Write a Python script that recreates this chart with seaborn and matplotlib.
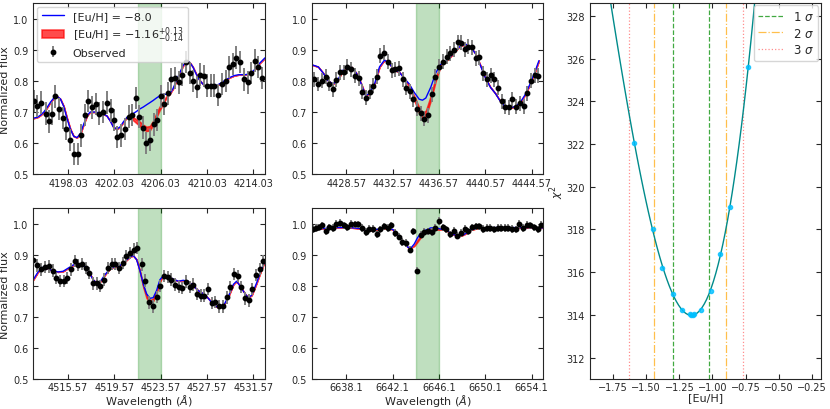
import numpy as np
import seaborn as sns
import matplotlib
matplotlib.use("Agg")
import matplotlib.pyplot as plt

# ---- observed spectra (wavelength, normalized flux, error) ----
tl_wl = [4195.12, 4195.32, 4195.72, 4196.09, 4196.37, 4196.66, 4196.94, 4197.29, 4197.60, 4197.89,
         4198.23, 4198.52, 4198.86, 4199.14, 4199.49, 4199.77, 4200.09, 4200.43, 4200.74, 4201.09,
         4201.40, 4201.72, 4202.00, 4202.29, 4202.57, 4202.94, 4203.26, 4203.54, 4203.86, 4204.17,
         4204.46, 4204.80, 4205.14, 4205.43, 4205.74, 4206.06, 4206.34, 4206.66, 4206.94, 4207.29,
         4207.60, 4207.89, 4208.23, 4208.52, 4208.80, 4209.14, 4209.46, 4209.74, 4210.00, 4210.34,
         4210.66, 4210.97, 4211.32, 4211.66, 4211.94, 4212.26, 4212.54, 4212.86, 4213.23, 4213.54,
         4213.86, 4214.14, 4214.46, 4214.80]
tl_flux = [0.735, 0.720, 0.730, 0.695, 0.670, 0.695, 0.750, 0.710, 0.680, 0.645,
           0.610, 0.565, 0.565, 0.625, 0.690, 0.735, 0.715, 0.725, 0.695, 0.700,
           0.730, 0.705, 0.675, 0.620, 0.625, 0.645, 0.685, 0.690, 0.745, 0.685,
           0.650, 0.600, 0.610, 0.660, 0.675, 0.750, 0.725, 0.760, 0.805, 0.810,
           0.795, 0.820, 0.860, 0.825, 0.800, 0.780, 0.820, 0.815, 0.785, 0.785,
           0.785, 0.755, 0.790, 0.800, 0.845, 0.855, 0.875, 0.860, 0.805, 0.795,
           0.825, 0.865, 0.845, 0.810]
tl_err = 0.036

tm_wl = [4425.80, 4426.14, 4426.43, 4426.77, 4427.08, 4427.40, 4427.71, 4428.03, 4428.34, 4428.66,
         4428.97, 4429.31, 4429.63, 4429.94, 4430.26, 4430.57, 4430.88, 4431.20, 4431.51, 4431.83,
         4432.17, 4432.48, 4432.80, 4433.11, 4433.43, 4433.74, 4434.06, 4434.34, 4434.66, 4434.97,
         4435.28, 4435.60, 4435.94, 4436.26, 4436.57, 4436.88, 4437.23, 4437.54, 4437.86, 4438.17,
         4438.48, 4438.80, 4439.11, 4439.43, 4439.74, 4440.06, 4440.40, 4440.71, 4441.03, 4441.34,
         4441.66, 4441.97, 4442.28, 4442.60, 4442.91, 4443.23, 4443.57, 4443.88, 4444.20, 4444.51,
         4444.83, 4445.14]
tm_flux = [0.805, 0.790, 0.800, 0.813, 0.790, 0.773, 0.803, 0.827, 0.827, 0.845,
           0.838, 0.816, 0.809, 0.765, 0.746, 0.765, 0.784, 0.814, 0.881, 0.891,
           0.861, 0.834, 0.838, 0.840, 0.805, 0.778, 0.766, 0.741, 0.711, 0.696,
           0.679, 0.689, 0.757, 0.813, 0.846, 0.861, 0.878, 0.888, 0.900, 0.924,
           0.922, 0.902, 0.910, 0.908, 0.872, 0.876, 0.824, 0.805, 0.818, 0.805,
           0.778, 0.734, 0.717, 0.716, 0.741, 0.717, 0.728, 0.719, 0.760, 0.800,
           0.818, 0.816]
tm_err = 0.024

bl_wl = [4512.57, 4512.92, 4513.26, 4513.61, 4513.93, 4514.24, 4514.56, 4514.88, 4515.20, 4515.51,
         4515.83, 4516.15, 4516.46, 4516.78, 4517.10, 4517.41, 4517.73, 4518.05, 4518.37, 4518.71,
         4519.03, 4519.35, 4519.66, 4519.98, 4520.30, 4520.61, 4520.93, 4521.25, 4521.56, 4521.91,
         4522.23, 4522.54, 4522.86, 4523.21, 4523.52, 4523.84, 4524.16, 4524.47, 4524.79, 4525.11,
         4525.43, 4525.74, 4526.06, 4526.38, 4526.69, 4527.01, 4527.33, 4527.65, 4527.96, 4528.28,
         4528.60, 4528.91, 4529.26, 4529.58, 4529.89, 4530.21, 4530.53, 4530.84, 4531.16, 4531.48,
         4531.80, 4532.11, 4532.43]
bl_flux = [0.885, 0.866, 0.853, 0.860, 0.863, 0.849, 0.826, 0.815, 0.815, 0.826,
           0.853, 0.880, 0.868, 0.870, 0.858, 0.842, 0.808, 0.808, 0.799, 0.820,
           0.857, 0.870, 0.870, 0.858, 0.874, 0.896, 0.906, 0.917, 0.922, 0.869,
           0.817, 0.747, 0.734, 0.765, 0.799, 0.831, 0.828, 0.820, 0.804, 0.796,
           0.794, 0.814, 0.796, 0.804, 0.774, 0.769, 0.769, 0.790, 0.744, 0.749,
           0.734, 0.734, 0.763, 0.796, 0.838, 0.831, 0.796, 0.760, 0.753, 0.790,
           0.835, 0.854, 0.880]
bl_err = 0.02

bm_wl = [6635.24, 6635.50, 6635.70, 6635.99, 6636.30, 6636.61, 6636.93, 6637.24, 6637.56, 6637.87,
         6638.19, 6638.50, 6638.81, 6639.13, 6639.44, 6639.76, 6640.07, 6640.39, 6640.73, 6641.04,
         6641.36, 6641.67, 6641.99, 6642.30, 6642.61, 6642.93, 6643.24, 6643.56, 6643.87, 6644.19,
         6644.50, 6644.81, 6645.13, 6645.47, 6645.79, 6646.10, 6646.41, 6646.73, 6647.04, 6647.36,
         6647.67, 6647.99, 6648.30, 6648.61, 6648.96, 6649.27, 6649.59, 6649.90, 6650.21, 6650.53,
         6650.84, 6651.16, 6651.47, 6651.79, 6652.10, 6652.41, 6652.73, 6653.04, 6653.36, 6653.67,
         6653.99, 6654.30, 6654.61, 6654.93]
bm_flux = [0.984, 0.986, 0.989, 0.995, 0.976, 0.989, 0.986, 0.999, 1.003, 0.995,
           0.989, 1.000, 0.998, 0.998, 0.987, 0.973, 0.984, 0.984, 0.966, 0.982,
           0.992, 0.986, 0.995, 0.971, 0.959, 0.941, 0.938, 0.917, 0.976, 0.849,
           0.965, 0.973, 0.976, 0.973, 0.987, 1.009, 0.989, 0.982, 0.966, 0.978,
           0.962, 0.971, 0.984, 0.976, 0.989, 0.992, 0.992, 0.984, 0.987, 0.987,
           0.982, 0.986, 0.986, 0.986, 0.986, 0.984, 0.982, 1.000, 0.987, 0.997,
           0.995, 0.989, 0.982, 0.997]
bm_err = 0.012

# ---- synthetic spectra: [Eu/H] = -8.0 (weak) and best-fit band inside the Eu window ----
tl_mwl = [4195.03, 4195.37, 4195.66, 4195.94, 4196.23, 4196.52, 4196.80, 4197.09, 4197.37, 4197.66,
          4197.94, 4198.23, 4198.52, 4198.80, 4199.09, 4199.37, 4199.66, 4199.94, 4200.37, 4200.80,
          4201.09, 4201.37, 4201.66, 4201.94, 4202.23, 4202.52, 4202.80, 4203.09, 4203.37, 4203.66,
          4203.94, 4204.23, 4204.52, 4204.80, 4205.09, 4205.37, 4205.66, 4205.94, 4206.23, 4206.52,
          4206.80, 4207.09, 4207.37, 4207.66, 4207.94, 4208.23, 4208.52, 4208.80, 4209.09, 4209.37,
          4209.66, 4209.94, 4210.23, 4210.66, 4211.09, 4211.52, 4211.94, 4212.37, 4212.80, 4213.37,
          4213.80, 4214.23, 4214.52, 4215.03]
tl_weak = [0.680, 0.683, 0.690, 0.700, 0.715, 0.732, 0.745, 0.750, 0.742, 0.718,
           0.680, 0.645, 0.622, 0.618, 0.630, 0.660, 0.688, 0.700, 0.700, 0.697,
           0.693, 0.688, 0.672, 0.652, 0.645, 0.652, 0.668, 0.682, 0.688, 0.695,
           0.702, 0.710, 0.716, 0.723, 0.730, 0.737, 0.745, 0.752, 0.757, 0.757,
           0.758, 0.775, 0.800, 0.825, 0.848, 0.862, 0.860, 0.845, 0.822, 0.803,
           0.790, 0.783, 0.781, 0.783, 0.790, 0.800, 0.810, 0.817, 0.820, 0.820,
           0.824, 0.840, 0.855, 0.874]
tl_band_start = 28
tl_band_lo = [0.686, 0.673, 0.664, 0.655, 0.645, 0.639, 0.641, 0.658, 0.683, 0.706, 0.725, 0.745]
tl_band_hi = [0.689, 0.683, 0.676, 0.669, 0.659, 0.653, 0.655, 0.672, 0.697, 0.718, 0.735, 0.751]

tm_mwl = [4425.57, 4426.14, 4426.57, 4427.00, 4427.43, 4427.86, 4428.28, 4428.57, 4429.00, 4429.43,
          4429.86, 4430.23, 4430.57, 4431.00, 4431.43, 4431.86, 4432.28, 4432.71, 4433.14, 4433.57,
          4434.00, 4434.43, 4434.86, 4435.14, 4435.43, 4435.86, 4436.28, 4436.71, 4437.14, 4437.57,
          4438.00, 4438.43, 4438.86, 4439.28, 4439.71, 4440.14, 4440.57, 4441.00, 4441.43, 4441.86,
          4442.28, 4442.71, 4443.14, 4443.57, 4444.00, 4444.43, 4444.86, 4445.20]
tm_weak = [0.852, 0.845, 0.825, 0.800, 0.790, 0.805, 0.835, 0.845, 0.845, 0.825,
           0.790, 0.752, 0.760, 0.790, 0.845, 0.867, 0.855, 0.835, 0.828, 0.808,
           0.790, 0.763, 0.741, 0.738, 0.745, 0.780, 0.825, 0.853, 0.862, 0.878,
           0.898, 0.912, 0.918, 0.910, 0.888, 0.850, 0.810, 0.780, 0.760, 0.735,
           0.717, 0.713, 0.718, 0.730, 0.755, 0.790, 0.830, 0.865]
tm_band_start = 20
tm_band_lo = [0.779, 0.738, 0.696, 0.680, 0.686, 0.737, 0.799, 0.848]
tm_band_hi = [0.787, 0.752, 0.714, 0.700, 0.704, 0.753, 0.811, 0.852]

bl_mwl = [4512.57, 4512.98, 4513.41, 4513.84, 4514.27, 4514.71, 4515.14, 4515.57, 4516.00, 4516.43,
          4516.87, 4517.30, 4517.73, 4518.02, 4518.31, 4518.74, 4519.17, 4519.61, 4520.04, 4520.47,
          4520.90, 4521.19, 4521.48, 4521.77, 4522.05, 4522.34, 4522.63, 4522.92, 4523.21, 4523.50,
          4523.78, 4524.22, 4524.65, 4525.08, 4525.51, 4525.95, 4526.38, 4526.81, 4527.24, 4527.67,
          4528.11, 4528.54, 4528.97, 4529.40, 4529.84, 4530.12, 4530.41, 4530.84, 4531.13, 4531.42,
          4531.85, 4532.28, 4532.57]
bl_weak = [0.820, 0.845, 0.860, 0.855, 0.848, 0.845, 0.847, 0.857, 0.867, 0.872,
           0.868, 0.850, 0.820, 0.810, 0.812, 0.835, 0.855, 0.862, 0.865, 0.878,
           0.893, 0.898, 0.885, 0.850, 0.808, 0.775, 0.760, 0.762, 0.785, 0.820,
           0.832, 0.830, 0.822, 0.815, 0.818, 0.815, 0.800, 0.785, 0.775, 0.760,
           0.740, 0.730, 0.735, 0.765, 0.805, 0.815, 0.800, 0.775, 0.762, 0.770,
           0.810, 0.855, 0.880]
bl_band_start = 23
bl_band_lo = [0.845, 0.797, 0.761, 0.746, 0.751, 0.777, 0.813]
bl_band_hi = [0.849, 0.803, 0.769, 0.754, 0.759, 0.783, 0.817]

bm_mwl = [6635.10, 6636.10, 6637.24, 6638.39, 6639.24, 6639.96, 6640.67, 6641.53, 6642.10, 6642.53,
          6642.96, 6643.39, 6643.67, 6643.96, 6644.24, 6644.53, 6644.96, 6645.39, 6645.81, 6646.39,
          6646.96, 6647.39, 6647.81, 6648.24, 6648.81, 6649.53, 6650.96, 6652.39, 6653.81, 6655.10]
bm_weak = [0.982, 0.985, 0.988, 0.988, 0.985, 0.978, 0.982, 0.986, 0.982, 0.965,
           0.945, 0.925, 0.922, 0.935, 0.955, 0.970, 0.980, 0.987, 0.987, 0.982,
           0.975, 0.965, 0.960, 0.965, 0.980, 0.987, 0.988, 0.988, 0.988, 0.987]
bm_band_start = 13
bm_band_lo = [0.928, 0.942, 0.957, 0.973, 0.980, 0.981]
bm_band_hi = [0.932, 0.948, 0.963, 0.977, 0.984, 0.985]

# line centres (window = centre +-1 A, plot = centre +-10 A)
centres = [4205.03, 4435.57, 4522.57, 6645.1]
tick_fmt = ["%.2f", "%.2f", "%.2f", "%.1f"]

# ---- chi-square curve ----
chi_abund = [-1.59, -1.45, -1.38, -1.30, -1.23, -1.17, -1.16, -1.15, -1.14, -1.09, -1.01, -0.94, -0.87, -0.73]
chi_vals = [322.05, 318.0, 316.2, 315.0, 314.25, 314.02, 314.0, 314.0, 314.02, 314.25, 315.1, 316.85, 319.05, 325.6]
sig1 = [-1.30, -1.03]
sig2 = [-1.44, -0.90]
sig3 = [-1.63, -0.77]

sns.set_style("ticks")
plt.rcParams["font.family"] = ["DejaVu Sans"]
plt.rcParams["mathtext.fontset"] = "dejavusans"

fig = plt.figure(figsize=(8.3, 4.1), dpi=100)
ax_tl = fig.add_axes([0.0401, 0.5724, 0.2792, 0.4178])
ax_tm = fig.add_axes([0.3755, 0.5724, 0.2790, 0.4178])
ax_bl = fig.add_axes([0.0401, 0.0732, 0.2792, 0.4163])
ax_bm = fig.add_axes([0.3755, 0.0732, 0.2790, 0.4163])
ax_chi = fig.add_axes([0.7108, 0.0732, 0.2780, 0.9171])

panels = [
    (ax_tl, tl_wl, tl_flux, tl_err, tl_mwl, tl_weak, tl_band_start, tl_band_lo, tl_band_hi),
    (ax_tm, tm_wl, tm_flux, tm_err, tm_mwl, tm_weak, tm_band_start, tm_band_lo, tm_band_hi),
    (ax_bl, bl_wl, bl_flux, bl_err, bl_mwl, bl_weak, bl_band_start, bl_band_lo, bl_band_hi),
    (ax_bm, bm_wl, bm_flux, bm_err, bm_mwl, bm_weak, bm_band_start, bm_band_lo, bm_band_hi),
]

weak_label = "[Eu/H] = \u22128.0"
best_label = r"[Eu/H] = $-1.16^{+0.13}_{-0.14}$"

for i, (ax, wl, flux, err, mwl, weak, b0, blo, bhi) in enumerate(panels):
    c = centres[i]
    ax.axvspan(c - 1, c + 1, color="green", alpha=0.25, lw=1)
    sns.lineplot(x=mwl, y=weak, ax=ax, color="blue", lw=1, sort=False, label=weak_label)
    lo = np.array(weak, dtype=float)
    hi = np.array(weak, dtype=float)
    lo[b0:b0 + len(blo)] = blo
    hi[b0:b0 + len(bhi)] = bhi
    ax.fill_between(mwl, lo, hi, facecolor="red", edgecolor="red", alpha=0.7, lw=1.1,
                    label=best_label)
    ax.errorbar(wl, flux, yerr=err, fmt="o", color="black", ecolor="gray",
                ms=3.2, elinewidth=1.4, capsize=0, label="Observed")
    ax.set_xlim(c - 10, c + 10)
    ax.set_ylim(0.5, 1.05)
    ticks = [c - 7, c - 3, c + 1, c + 5, c + 9]
    ax.set_xticks(ticks)
    ax.set_xticklabels([tick_fmt[i] % t for t in ticks])
    ax.set_yticks([0.5, 0.6, 0.7, 0.8, 0.9, 1.0])
    ax.tick_params(direction="in", top=True, right=True, labelsize=7, length=3.5)
    ax.tick_params(axis="x", pad=2.5)
    if ax.get_legend() is not None:
        ax.get_legend().remove()
    if i == 0:
        h, l = ax.get_legend_handles_labels()
        order = [l.index(weak_label), l.index(best_label), l.index("Observed")]
        ax.legend([h[k] for k in order], [l[k] for k in order], loc="upper left", fontsize=8,
                  frameon=True, handlelength=2.0, handletextpad=0.8, borderpad=0.4,
                  labelspacing=0.3, borderaxespad=0.35)
    if i in (0, 2):
        ax.set_ylabel("Normalized flux", fontsize=8, labelpad=2)
    if i in (2, 3):
        ax.set_xlabel(r"Wavelength ($\AA$)", fontsize=8, labelpad=0)

# chi-square panel
ax_chi.set_xlim(-1.925, -0.183)
ax_chi.set_ylim(311.0, 328.6)
ax_chi.axvline(sig1[0], color="tab:green", ls="--", lw=0.9, alpha=0.9, label=r"1 $\sigma$")
ax_chi.axvline(sig1[1], color="tab:green", ls="--", lw=0.9, alpha=0.9)
ax_chi.axvline(sig2[0], color="orange", ls="-.", lw=0.9, alpha=0.7, label=r"2 $\sigma$")
ax_chi.axvline(sig2[1], color="orange", ls="-.", lw=0.9, alpha=0.7)
ax_chi.axvline(sig3[0], color="red", ls=":", lw=0.9, alpha=0.45, label=r"3 $\sigma$")
ax_chi.axvline(sig3[1], color="red", ls=":", lw=0.9, alpha=0.45)
sns.regplot(x=chi_abund, y=chi_vals, ax=ax_chi, order=4, ci=None, truncate=False,
            scatter_kws=dict(color="deepskyblue", s=9, zorder=3),
            line_kws=dict(color="darkcyan", lw=1))
ax_chi.set_xlim(-1.925, -0.183)
ax_chi.set_ylim(311.0, 328.6)
ax_chi.set_xticks([-1.75, -1.5, -1.25, -1.0, -0.75, -0.5, -0.25])
ax_chi.set_yticks(np.arange(312, 329, 2))
ax_chi.tick_params(direction="in", top=True, right=True, labelsize=7, length=3.5)
ax_chi.tick_params(axis="x", pad=2.5)
ax_chi.set_xlabel("[Eu/H]", fontsize=8, labelpad=0)
ax_chi.set_ylabel(r"$\chi^2$", fontsize=8, labelpad=0)
ax_chi.legend(loc="upper right", fontsize=8.5, handlelength=2.2, handletextpad=0.7,
              borderpad=0.4, labelspacing=0.3, borderaxespad=0.2)

fig.savefig("out.png", dpi=100)
